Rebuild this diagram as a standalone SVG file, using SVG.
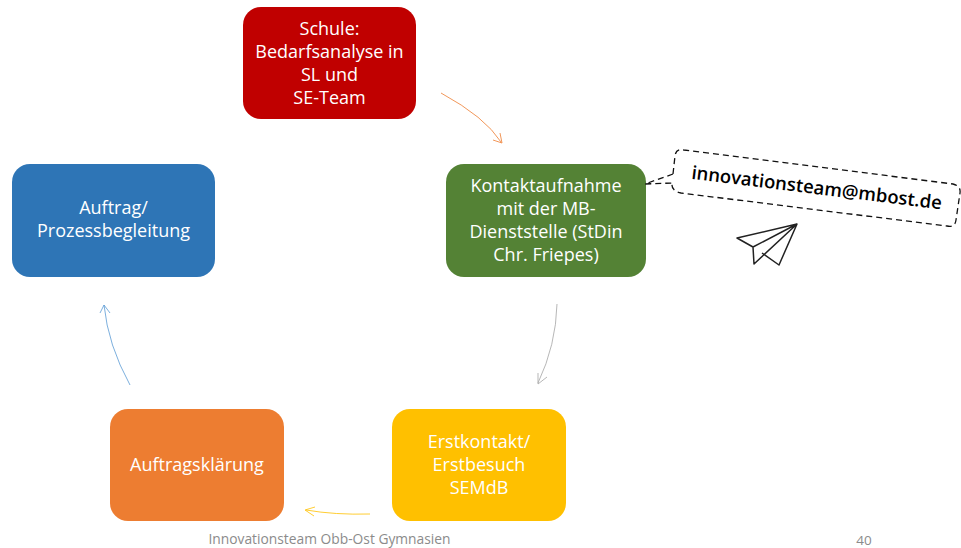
<svg xmlns="http://www.w3.org/2000/svg" width="961" height="548" viewBox="0 0 961 548">
<style>
.lbl{font-family:"Open Sans","Noto Sans",sans-serif;font-size:18px;fill:#fff;text-anchor:middle}
.arr{fill:none;stroke-width:1;stroke-opacity:.8}
.plane{fill:none;stroke:#222;stroke-width:1.5;stroke-linejoin:round}
.foot{font-family:"Open Sans","Noto Sans",sans-serif;fill:#8b8b8b;text-anchor:middle}
</style>
<rect width="961" height="548" fill="#fff"/>
<g id="connectors">
<path class="arr" stroke="#ed7d31" d="M441 93Q485 117 501 142M500 133L502 143L493 140"/>
<path class="arr" stroke="#a5a5a5" d="M557 304Q556 345 538 383M538 373L538 384L547 377"/>
<path class="arr" stroke="#ffc000" d="M370 514Q335 515 306 510M315 507L305 510L314 516"/>
<path class="arr" stroke="#5b9bd5" d="M130 385Q108 345 104 305M100 313L104 305L110 313"/>
</g>
<g id="n1"><rect x="243" y="7" width="173" height="112" rx="18" fill="#c00000"/>
<text class="lbl" x="329.500" y="35">Schule:</text><text class="lbl" x="329.500" y="58">Bedarfsanalyse in</text><text class="lbl" x="329.500" y="81">SL und</text><text class="lbl" x="329.500" y="104">SE-Team</text></g>
<g id="n2"><rect x="446" y="164" width="200" height="113" rx="18" fill="#548235"/>
<text class="lbl" x="546" y="192">Kontaktaufnahme</text><text class="lbl" x="546" y="215">mit der MB-</text><text class="lbl" x="546" y="238">Dienststelle (StDin</text><text class="lbl" x="546" y="261">Chr. Friepes)</text></g>
<g id="n3"><rect x="392" y="409" width="174" height="112" rx="18" fill="#ffc000"/>
<text class="lbl" x="479" y="448">Erstkontakt/</text><text class="lbl" x="479" y="471">Erstbesuch</text><text class="lbl" x="479" y="494">SEMdB</text></g>
<g id="n4"><rect x="110" y="409" width="174" height="112" rx="18" fill="#ed7d31"/>
<text class="lbl" x="197" y="471">Auftragsklärung</text></g>
<g id="n5"><rect x="12" y="164" width="203" height="113" rx="18" fill="#2e75b6"/>
<text class="lbl" x="113.500" y="214">Auftrag/</text><text class="lbl" x="113.500" y="237">Prozessbegleitung</text></g>
<g id="callout">
<path d="M673 174L645 184L672 183M673 174L675 156Q676 148 684 150L953 184Q961 186 960 193L956 220Q955 228 947 226L681 193Q671 191 672 183" fill="none" stroke="#111" stroke-width="1.300" stroke-dasharray="6 4"/>
<text x="816" y="194" transform="rotate(7 816 194)" font-family="'Open Sans','Noto Sans',sans-serif" font-size="18.500" font-weight="600" fill="#000" text-anchor="middle">innovationsteam@mbost.de</text>
</g>
<g id="plane">
<path class="plane" d="M797 224L737 238L753 247ZM753 247L754 264L797 224M762 253L779 265L797 224"/>
</g>
<g id="footer">
<text class="foot" x="329.500" y="544" font-size="13.800">Innovationsteam Obb-Ost Gymnasien</text>
<text class="foot" x="864" y="545" font-size="13.500">40</text>
</g>
</svg>
